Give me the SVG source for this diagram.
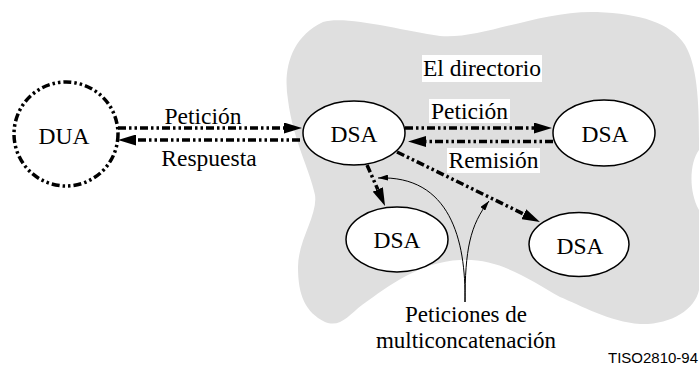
<svg xmlns="http://www.w3.org/2000/svg" width="699" height="367" viewBox="0 0 699 367">
<style>
text.t{font-family:'Liberation Serif','Times New Roman',Times,serif;font-size:23.5px;fill:#000}
.node{fill:#fff;stroke:#000;stroke-width:1.5}
.dd{fill:none;stroke:#000;stroke-width:3.5;stroke-dasharray:8 3 2.5 3 2.5 3}
.thin{fill:none;stroke:#000;stroke-width:1}
.lbg{fill:#fff}
</style>
<defs>
<marker id="ah" viewBox="0 0 18 11" refX="0" refY="5.5" markerWidth="18" markerHeight="11" orient="auto" markerUnits="userSpaceOnUse"><path d="M0,0 L18,5.5 L0,11 z" fill="#000"/></marker>
<marker id="sa" viewBox="0 0 10 6" refX="10" refY="3" markerWidth="10" markerHeight="6" orient="auto" markerUnits="userSpaceOnUse"><path d="M0,0 L10,3 L0,6 z" fill="#000"/></marker>
</defs>
<g id="cloud">
<path d="M323,22 C345,15 400,30 440,36 C480,40 540,10 597,12 C640,14 670,22 685,45 C697,65 699,100 699,140 L699,150 C690,162 688,190 699,210 L699,290 C695,310 670,325 640,324 C610,322 580,305 560,297 C530,280 500,258 460,260 C420,262 390,285 362,305 C348,316 340,328 325,322 C305,312 298,295 298,267 C298,240 318,215 315,195 C310,170 293,140 288,100 C283,70 290,38 323,22 Z" fill="#dfdfdf"/>
</g>
<g id="labels-bg">
<rect class="lbg" x="422" y="55" width="120" height="27"/>
<rect class="lbg" x="429" y="99" width="81" height="24"/>
<rect class="lbg" x="447" y="148" width="93" height="25"/>
</g>
<g id="connectors">
<path class="dd" d="M118,128 L284,128" marker-end="url(#ah)"/>
<path class="dd" d="M300,140 L136,140" marker-end="url(#ah)"/>
<path class="dd" d="M405,128 L534,128" marker-end="url(#ah)"/>
<path class="dd" d="M553,141.5 L426,141.5" marker-end="url(#ah)"/>
<path class="dd" d="M367,165 L377.8,189.5" marker-end="url(#ah)"/>
<path class="dd" d="M397,152 L523.8,214.1" marker-end="url(#ah)"/>
<path class="thin" d="M465,302 C466,240 450,175 378,178" marker-end="url(#sa)"/>
<path class="thin" d="M465,302 C465,250 470,225 489,201" marker-end="url(#sa)"/>
</g>
<g font-family="Liberation Serif, Times New Roman, serif" font-size="23.5" text-anchor="middle">
<g id="DUA">
<circle cx="66" cy="134" r="52" fill="#fff" stroke="#000" stroke-width="3.5" stroke-dasharray="8 3 2.5 3 2.5 3"/>
<text class="t" x="64" y="144">DUA</text>
</g>
<g id="DSA1">
<ellipse class="node" cx="354" cy="133" rx="51" ry="32"/>
<text class="t" x="354" y="142">DSA</text>
</g>
<g id="DSA2">
<ellipse class="node" cx="604" cy="133" rx="51" ry="33"/>
<text class="t" x="605" y="142">DSA</text>
</g>
<g id="DSA3">
<ellipse class="node" cx="397" cy="239.5" rx="51" ry="32.5"/>
<text class="t" x="397" y="248">DSA</text>
</g>
<g id="DSA4">
<ellipse class="node" cx="579" cy="244.5" rx="50" ry="32"/>
<text class="t" x="580" y="254">DSA</text>
</g>
<g id="texts">
<text class="t" x="482" y="76">El directorio</text>
<text class="t" x="469.5" y="119">Petición</text>
<text class="t" x="493.5" y="168">Remisión</text>
<text class="t" x="203" y="124">Petición</text>
<text class="t" x="209" y="166">Respuesta</text>
<text class="t" x="466" y="322" style="font-size:23px">Peticiones de</text>
<text class="t" x="466" y="348" style="font-size:23px">multiconcatenación</text>
</g>
</g>
<text x="608" y="363" font-family="Liberation Sans, Arial, sans-serif" font-size="15">TISO2810-94</text>
</svg>
